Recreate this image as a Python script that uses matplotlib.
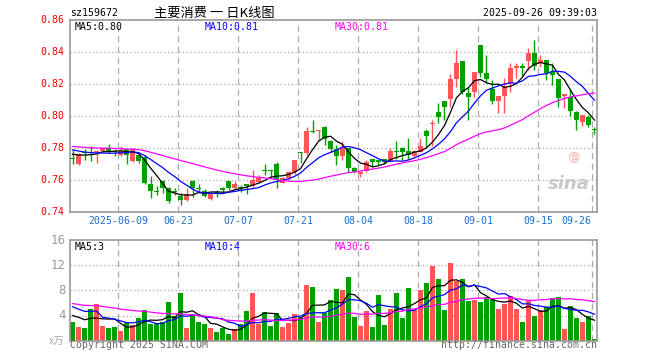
import numpy as np
import matplotlib
matplotlib.use('Agg')
import matplotlib.pyplot as plt

# daily bars, 2025-05-27 .. 2025-09-26
opens = [0.7740, 0.7705, 0.7775, 0.7778, 0.7775, 0.7782, 0.7800, 0.7782, 0.7760, 0.7796,
         0.7719, 0.7760, 0.7743, 0.7577, 0.7530, 0.7598, 0.7552, 0.7530, 0.7500, 0.7479,
         0.7598, 0.7552, 0.7535, 0.7482, 0.7522, 0.7546, 0.7596, 0.7550, 0.7558, 0.7575,
         0.7565, 0.7590, 0.7662, 0.7660, 0.7702, 0.7585, 0.7612, 0.7654, 0.7775, 0.7769,
         0.7905, 0.7910, 0.7935, 0.7848, 0.7796, 0.7754, 0.7800, 0.7679, 0.7642, 0.7660,
         0.7733, 0.7723, 0.7733, 0.7721, 0.7783, 0.7800, 0.7783, 0.7754, 0.7779, 0.7908,
         0.7950, 0.8029, 0.8096, 0.8108, 0.8233, 0.8346, 0.8144, 0.8154, 0.8446, 0.8273,
         0.8169, 0.8098, 0.8127, 0.8206, 0.8300, 0.8315, 0.8348, 0.8398, 0.8331, 0.8352,
         0.8279, 0.8231, 0.8125, 0.8123, 0.8029, 0.7967, 0.7994, 0.7917]
highs = [0.7790, 0.7770, 0.7797, 0.7812, 0.7790, 0.7805, 0.7829, 0.7797, 0.7812, 0.7800,
         0.7800, 0.7771, 0.7758, 0.7625, 0.7562, 0.7604, 0.7560, 0.7550, 0.7520, 0.7552,
         0.7600, 0.7575, 0.7545, 0.7525, 0.7540, 0.7556, 0.7598, 0.7598, 0.7570, 0.7577,
         0.7665, 0.7633, 0.7702, 0.7669, 0.7715, 0.7619, 0.7660, 0.7727, 0.7777, 0.7935,
         0.7977, 0.7915, 0.7937, 0.7850, 0.7821, 0.7846, 0.7802, 0.7681, 0.7660, 0.7727,
         0.7735, 0.7727, 0.7735, 0.7800, 0.7846, 0.7808, 0.7862, 0.7790, 0.7862, 0.7921,
         0.7977, 0.8081, 0.8098, 0.8262, 0.8414, 0.8348, 0.8185, 0.8279, 0.8446, 0.8383,
         0.8227, 0.8127, 0.8237, 0.8335, 0.8335, 0.8335, 0.8425, 0.8477, 0.8383, 0.8354,
         0.8331, 0.8233, 0.8140, 0.8169, 0.8031, 0.8010, 0.8008, 0.7931]
lows = [0.7700, 0.7695, 0.7729, 0.7718, 0.7708, 0.7775, 0.7770, 0.7750, 0.7750, 0.7700,
        0.7715, 0.7708, 0.7577, 0.7489, 0.7510, 0.7521, 0.7460, 0.7510, 0.7444, 0.7470,
        0.7498, 0.7530, 0.7495, 0.7477, 0.7498, 0.7519, 0.7540, 0.7545, 0.7530, 0.7512,
        0.7560, 0.7585, 0.7633, 0.7623, 0.7550, 0.7581, 0.7605, 0.7640, 0.7706, 0.7758,
        0.7894, 0.7852, 0.7821, 0.7777, 0.7696, 0.7727, 0.7654, 0.7644, 0.7620, 0.7652,
        0.7692, 0.7696, 0.7700, 0.7715, 0.7733, 0.7727, 0.7733, 0.7748, 0.7775, 0.7810,
        0.7815, 0.7956, 0.7977, 0.8060, 0.8185, 0.8140, 0.7977, 0.8123, 0.8248, 0.8206,
        0.8077, 0.8023, 0.8019, 0.8154, 0.8237, 0.8250, 0.8290, 0.8290, 0.8310, 0.8227,
        0.8196, 0.8060, 0.8050, 0.8002, 0.7915, 0.7940, 0.7931, 0.7890]
closes = [0.7735, 0.7765, 0.7768, 0.7772, 0.7785, 0.7800, 0.7775, 0.7778, 0.7785, 0.7756,
          0.7798, 0.7718, 0.7583, 0.7531, 0.7525, 0.7552, 0.7469, 0.7525, 0.7480, 0.7514,
          0.7552, 0.7545, 0.7505, 0.7518, 0.7518, 0.7542, 0.7550, 0.7577, 0.7554, 0.7565,
          0.7602, 0.7612, 0.7658, 0.7657, 0.7602, 0.7612, 0.7654, 0.7727, 0.7768, 0.7908,
          0.7900, 0.7915, 0.7856, 0.7798, 0.7754, 0.7800, 0.7679, 0.7654, 0.7650, 0.7717,
          0.7717, 0.7717, 0.7717, 0.7783, 0.7779, 0.7779, 0.7758, 0.7783, 0.7815, 0.7879,
          0.7958, 0.7998, 0.8060, 0.8233, 0.8333, 0.8150, 0.8119, 0.8279, 0.8269, 0.8231,
          0.8098, 0.8127, 0.8181, 0.8300, 0.8315, 0.8300, 0.8398, 0.8315, 0.8352, 0.8273,
          0.8258, 0.8112, 0.8140, 0.8035, 0.7977, 0.8008, 0.7946, 0.7913]
# volume, x 10k
vols = [2.96, 2.17, 2.0, 5.1, 5.8, 2.3, 2.0, 2.2, 1.5, 2.8,
        2.5, 3.6, 4.9, 2.6, 2.6, 3.0, 6.1, 3.9, 7.6, 2.0,
        4.2, 3.0, 2.6, 2.0, 1.4, 2.0, 1.1, 1.85, 2.6, 4.7,
        7.6, 2.6, 4.55, 2.3, 4.4, 2.2, 2.8, 4.2, 3.75, 8.8,
        8.5, 3.0, 4.4, 6.45, 8.2, 8.0, 10.1, 3.75, 2.3, 4.7,
        2.2, 7.25, 2.5, 5.0, 7.6, 3.6, 8.4, 4.9, 8.0, 9.15,
        11.85, 9.8, 4.9, 12.3, 9.5, 9.8, 6.3, 6.45, 6.1, 6.9,
        6.8, 5.0, 5.8, 7.1, 5.0, 3.0, 6.45, 3.9, 4.9, 5.35,
        6.8, 6.9, 1.85, 5.5, 3.6, 3.0, 3.9, 0.26]
# earlier sessions (off the left edge), only used to seed the moving averages
pre_close = [0.784, 0.786, 0.785, 0.783, 0.781, 0.780, 0.782, 0.784, 0.783, 0.781,
             0.779, 0.780, 0.782, 0.783, 0.784, 0.782, 0.781, 0.780, 0.781, 0.783,
             0.784, 0.783, 0.781, 0.780, 0.781, 0.779, 0.777, 0.776, 0.776]
pre_vol = [6.0, 6.5, 6.2, 5.8, 6.0, 6.3, 6.1, 6.4, 6.2, 6.0,
           6.1, 6.3, 6.2, 6.0, 6.1, 6.2, 6.3, 6.1, 6.2, 6.0,
           6.0, 5.5, 5.0, 5.5, 12.0, 3.5, 4.0, 4.0, 5.5]

tick_idx = [8, 18, 28, 38, 48, 58, 68, 78, 87]
tick_lab = ['2025-06-09', '06-23', '07-07', '07-21', '08-04', '08-18', '09-01', '09-15', '09-26']

W, H = 660, 360
RED = '#ff5555'
GREEN = '#00a000'
GRID = '#999999'
MONO = 'DejaVu Sans Mono'
FS = 7.1

o = np.array(opens); h = np.array(highs); l = np.array(lows); c = np.array(closes)
v = np.array(vols)
n = len(c)
x = np.arange(n)
up = c >= o
cols = np.where(up, RED, GREEN)


def ma(pre, cur, k):
    s = np.concatenate([pre, cur])
    out = np.convolve(s, np.ones(k) / k, mode='valid')
    return out[-len(cur):]


ma5, ma10, ma30 = ma(pre_close, c, 5), ma(pre_close, c, 10), ma(pre_close, c, 30)
vma5, vma10, vma30 = ma(pre_vol, v, 5), ma(pre_vol, v, 10), ma(pre_vol, v, 30)


def fx(px):
    return px / W


def fy(py):
    return 1 - py / H


fig = plt.figure(figsize=(6.6, 3.6), dpi=100)
ax = fig.add_axes([fx(70), fy(212.3), fx(527.3), 192 / H])
axv = fig.add_axes([fx(70), fy(340.7), fx(527.3), 100.7 / H])

xlim = (-0.42, 87.47)
for a in (ax, axv):
    a.set_xlim(*xlim)
    for s in a.spines.values():
        s.set_color(GRID)
        s.set_linewidth(1.2)
    a.set_xticks([])
    a.set_yticks([])
    for t in tick_idx:
        a.axvline(t - 0.37, color='#aaaaaa', lw=0.9, ls=(0, (5, 3.5)), zorder=0)

# price panel
ax.set_ylim(0.74, 0.86)
for yv in [0.76, 0.78, 0.80, 0.82, 0.84]:
    ax.axhline(yv, color='#aaaaaa', lw=0.9, ls=(0, (1, 2)), zorder=0)
ax.vlines(x, l, h, colors=cols, lw=1.0, zorder=2)
body = np.maximum(np.abs(c - o), 0.0007)
ax.bar(x, body, bottom=np.minimum(o, c), width=0.8, color=cols, lw=0, zorder=3)
ax.plot(x, ma5, color='black', lw=0.9, zorder=4)
ax.plot(x, ma10, color='#0000ff', lw=0.9, zorder=4)
ax.plot(x, ma30, color='#ff00ff', lw=0.9, zorder=4)

# sina watermark
ax.text(0.985, 0.1, 'sina', transform=ax.transAxes, ha='right', va='bottom',
        fontsize=13, fontweight='bold', style='italic', color='#c8c8c8', zorder=1)
ax.text(0.955, 0.25, '@', transform=ax.transAxes, ha='center', va='bottom',
        fontsize=9, fontweight='bold', color='#f2c0c0', zorder=1)

# volume panel
axv.set_ylim(0, 16)
for yv in [4, 8, 12]:
    axv.axhline(yv, color='#aaaaaa', lw=0.9, ls=(0, (1, 2)), zorder=0)
axv.bar(x, v, width=0.83, color=cols, lw=0, zorder=2)
axv.plot(x, vma5, color='black', lw=0.9, zorder=4)
axv.plot(x, vma10, color='#0000ff', lw=0.9, zorder=4)
axv.plot(x, vma30, color='#ff00ff', lw=0.9, zorder=4)

# y labels
for yv in [0.74, 0.76, 0.78, 0.80, 0.82, 0.84, 0.86]:
    py = 20.3 + (0.86 - yv) * 1600
    fig.text(fx(64), fy(py), f'{yv:.2f}', ha='right', va='center',
             fontsize=FS, family=MONO, color='red')
for yv in [4, 8, 12, 16]:
    py = 340.7 - yv * 6.29
    fig.text(fx(66), fy(py), str(yv), ha='right', va='center',
             fontsize=8.5, family='DejaVu Sans', color='#999999')
fig.text(fx(64), fy(342), 'x万', ha='right', va='center', fontsize=7.5,
         family=['Noto Sans CJK SC', 'DejaVu Sans'], color='#aaaaaa', style='italic')

# x labels
for t, lab in zip(tick_idx, tick_lab):
    px = 72.5 + 6 * t - 2.2
    if lab == '09-26':
        px = 576
    fig.text(fx(px), fy(221.3), lab, ha='center', va='center', fontsize=FS,
             family=MONO, color='#1a6fd0')

# header
fig.text(fx(70), fy(13), 'sz159672', ha='left', va='center', fontsize=FS,
         family=MONO, color='black')
fig.text(fx(214), fy(13), '主要消费 一 日K线图', ha='center', va='center', fontsize=9.5,
         family=['Noto Sans CJK SC', 'DejaVu Sans'], color='black')
fig.text(fx(597), fy(13), '2025-09-26 09:39:03', ha='right', va='center', fontsize=FS,
         family=MONO, color='black')

# MA legends
fig.text(fx(75), fy(26.5), f'MA5:{ma5[-1]:.2f}', ha='left', va='center', fontsize=FS,
         family=MONO, color='black')
fig.text(fx(205), fy(26.5), f'MA10:{ma10[-1]:.2f}', ha='left', va='center', fontsize=FS,
         family=MONO, color='#0000ff')
fig.text(fx(335), fy(26.5), f'MA30:{ma30[-1]:.2f}', ha='left', va='center', fontsize=FS,
         family=MONO, color='#ff00ff')
fig.text(fx(75), fy(247), f'MA5:{vma5[-1]:.0f}', ha='left', va='center', fontsize=FS,
         family=MONO, color='black')
fig.text(fx(205), fy(247), f'MA10:{vma10[-1]:.0f}', ha='left', va='center', fontsize=FS,
         family=MONO, color='#0000ff')
fig.text(fx(335), fy(247), f'MA30:{vma30[-1]:.0f}', ha='left', va='center', fontsize=FS,
         family=MONO, color='#ff00ff')

# footer
fig.text(fx(70), fy(345.5), 'Copyright 2025 SINA.COM', ha='left', va='center', fontsize=FS,
         family=MONO, color='#666666')
fig.text(fx(597), fy(345.5), 'http://finance.sina.com.cn', ha='right', va='center',
         fontsize=FS, family=MONO, color='#666666')

fig.savefig('out.png', dpi=100)
